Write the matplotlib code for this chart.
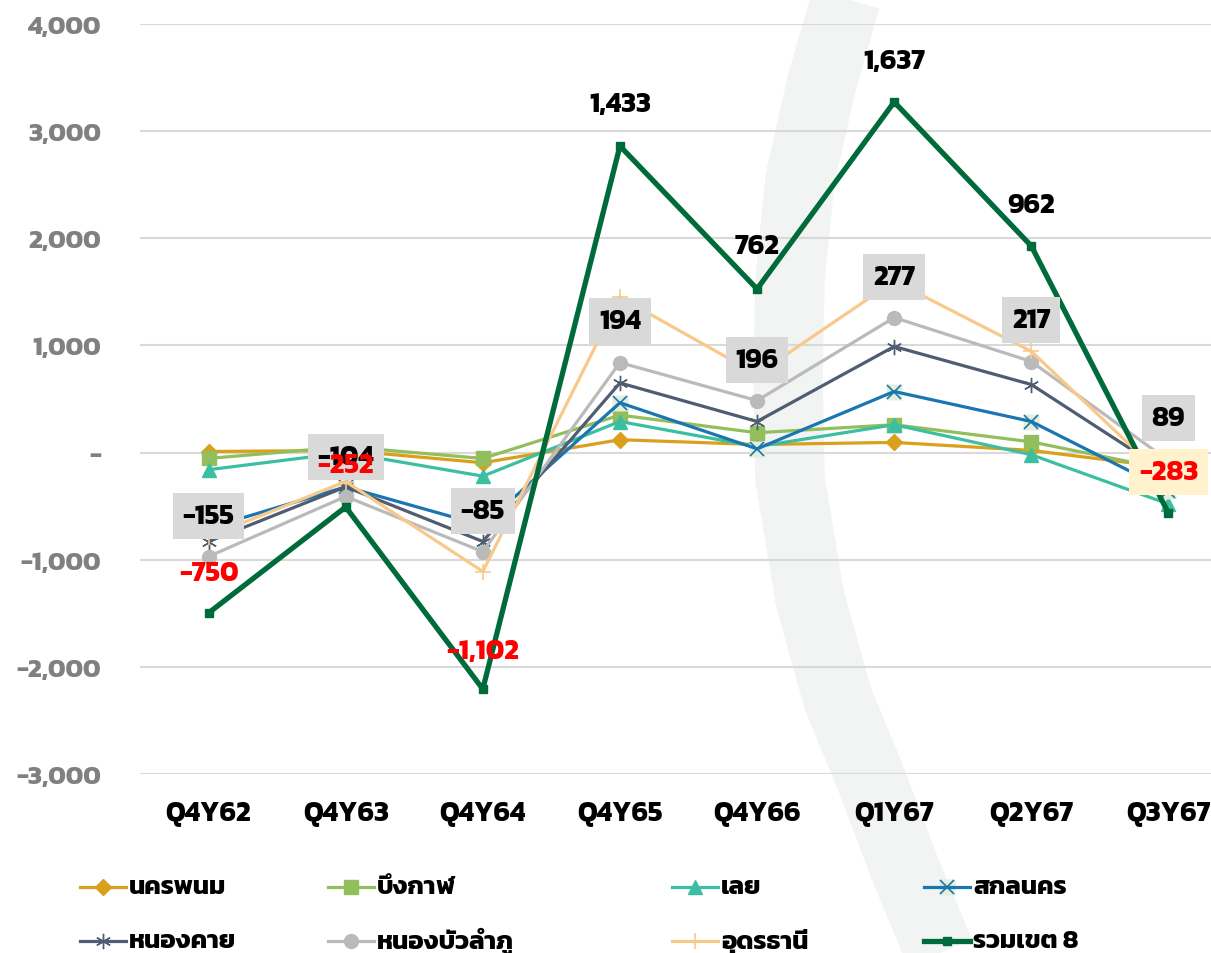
import matplotlib
matplotlib.use("Agg")
import matplotlib.pyplot as plt
from matplotlib import font_manager
from matplotlib.font_manager import FontProperties
from matplotlib.lines import Line2D
from matplotlib.ticker import FuncFormatter

# pick an installed Thai-capable font
names = {f.name for f in font_manager.fontManager.ttflist}
thai_font = next((n for n in ["Kanit", "Prompt", "Mitr", "Bai Jamjuree", "Chakra Petch"] if n in names), "DejaVu Sans")
plt.rcParams["font.family"] = [thai_font, "DejaVu Sans"]

# tick numbers: a static bold Montserrat if there is one, else the Thai font in bold
mont_bold = [f.fname for f in font_manager.fontManager.ttflist
             if f.name == "Montserrat" and f.weight == 700 and f.style == "normal" and "[" not in f.fname]
if mont_bold:
    ytick_fp = FontProperties(fname=mont_bold[0], size=17)
    xtick_fp = FontProperties(fname=mont_bold[0], size=18)
else:
    ytick_fp = FontProperties(family=thai_font, weight="bold", size=19)
    xtick_fp = FontProperties(family=thai_font, weight="bold", size=20)

# ---- data ----
quarters = ["Q4Y62", "Q4Y63", "Q4Y64", "Q4Y65", "Q4Y66", "Q1Y67", "Q2Y67", "Q3Y67"]
nakhon_phanom = [10, 20, -95, 120, 75, 95, 20, -140]
bueng_kan = [-55, 55, -55, 350, 185, 260, 100, -160]
loei = [-160, 0, -220, 290, 55, 260, -20, -480]
sakon_nakhon = [-705, -320, -680, 465, 35, 570, 290, -355]
nong_khai = [-830, -320, -830, 650, 290, 990, 635, -195]
nong_bua = [-970, -410, -925, 840, 485, 1260, 850, -75]
udon = [-785, -270, -1110, 1450, 730, 1600, 945, -270]
total8 = [-1497, -508, -2207, 2861, 1527, 3272, 1928, -564]

# data labels as shown on the chart
lbl_text = ["-155", "-750", "-104", "-252", "-85", "-1,102", "1,433", "194", "762", "196",
            "1,637", "277", "962", "217", "89", "-283"]
lbl_kind = ["box", "red", "box", "red", "box", "red", "plain", "box", "plain", "box",
            "plain", "box", "plain", "box", "box", "redbox"]
lbl_x = [0, 0, 1, 1, 2, 2, 3, 3, 4, 4, 5, 5, 6, 6, 7, 7]
lbl_y = [-592, -1124, -41, -116, -545, -1852, 3253, 1228, 1928, 864, 3654, 1639, 2311, 1237, 323, -181]

W, H = 1211, 954
fig = plt.figure(figsize=(W / 100, H / 100), dpi=100)

# faint watermark arc in the background
wx = [846, 822, 800, 790, 788, 790, 810, 838, 871, 905, 940]
wy = [0, 83, 180, 280, 380, 480, 600, 700, 780, 870, 954]
fig.add_artist(Line2D([v / W for v in wx], [1 - v / H for v in wy], transform=fig.transFigure,
                      color="#F2F4F3", lw=50, solid_capstyle="butt", solid_joinstyle="round", zorder=0))

ax = fig.add_axes([140 / W, (H - 775) / H, (1237 - 140) / W, 750 / H])
ax.patch.set_alpha(0)

x = list(range(len(quarters)))
ax.plot(x, nakhon_phanom, color="#DAA01C", lw=2.3, marker="D", ms=8, zorder=3)
ax.plot(x, bueng_kan, color="#92BE5C", lw=2.3, marker="s", ms=10, zorder=3)
ax.plot(x, loei, color="#3BBFA0", lw=2.3, marker="^", ms=10, zorder=3)
ax.plot(x, sakon_nakhon, ls="none", marker="s", ms=11, mfc="#E2EFDA", mec="none", zorder=3)
ax.plot(x, sakon_nakhon, color="#1A76B0", lw=2.3, marker="x", ms=10, mew=1.2, zorder=3)
ax.plot(x, nong_khai, color="#4F5D73", lw=2.3, marker=(6, 2, 0), ms=11, mew=1.0, zorder=3)
ax.plot(x, nong_bua, color="#BABABA", lw=2.3, marker="o", ms=10, zorder=3)
ax.plot(x, udon, color="#F8C98A", lw=2.3, marker="+", ms=12, mew=1.2, zorder=3)
ax.plot(x, total8, color="#006B3A", lw=3.8, marker="s", ms=6, zorder=4)

ax.set_xlim(-0.5, 7.5)
ax.set_ylim(-3000, 4000)
ax.set_yticks(range(-3000, 4001, 1000))
ax.yaxis.set_major_formatter(FuncFormatter(lambda v, p: "-" if v == 0 else f"{v:,.0f}"))
ax.grid(axis="y", color="#D9D9D9", lw=1.5)
ax.set_axisbelow(True)
for s in ax.spines.values():
    s.set_visible(False)
ax.tick_params(length=0)
ax.set_xticks(x)
ax.set_xticklabels(quarters, color="black")
for t in ax.get_xticklabels():
    t.set_fontproperties(xtick_fp)
ax.tick_params(axis="x", pad=18)
ax.tick_params(axis="y", pad=28)
for t in ax.get_yticklabels():
    t.set_fontproperties(ytick_fp)
    t.set_color("#808080")

for t, k, xi, yi in zip(lbl_text, lbl_kind, lbl_x, lbl_y):
    kw = dict(ha="center", va="center", fontsize=20, fontweight="bold", zorder=10)
    if k == "box":
        ax.text(xi, yi, t, color="black",
                bbox=dict(boxstyle="square,pad=0.35", fc="#D9D9D9", ec="none"), **kw)
    elif k == "redbox":
        ax.text(xi, yi, t, color="#FF0000",
                bbox=dict(boxstyle="square,pad=0.35", fc="#FFF2CC", ec="none"), **kw)
    elif k == "red":
        ax.text(xi, yi, t, color="#FF0000", **kw)
    else:
        ax.text(xi, yi, t, color="black", **kw)

# legend, drawn by hand in figure pixels (two rows, four columns)
leg_names = ["นครพนม", "บึงกาฬ", "เลย", "สกลนคร", "หนองคาย", "หนองบัวลำภู", "อุดรธานี", "รวมเขต 8"]
leg_styles = [
    dict(color="#DAA01C", lw=2.3, marker="D", ms=8),
    dict(color="#92BE5C", lw=2.3, marker="s", ms=10),
    dict(color="#3BBFA0", lw=2.3, marker="^", ms=10),
    dict(color="#1A76B0", lw=2.3, marker="x", ms=10, mew=1.2),
    dict(color="#4F5D73", lw=2.3, marker=(6, 2, 0), ms=11, mew=1.0),
    dict(color="#BABABA", lw=2.3, marker="o", ms=10),
    dict(color="#F8C98A", lw=2.3, marker="+", ms=12, mew=1.2),
    dict(color="#006B3A", lw=3.8, marker="s", ms=6),
]
col_x = [80, 328, 672, 924]
row_y = [888, 942]
for i, (name, st) in enumerate(zip(leg_names, leg_styles)):
    cx, ry = col_x[i % 4], row_y[i // 4]
    fy = 1 - ry / H
    if name == "สกลนคร":
        fig.add_artist(Line2D([(cx + 23) / W], [fy], transform=fig.transFigure, ls="none",
                              marker="s", ms=11, mfc="#E2EFDA", mec="none"))
    fig.add_artist(Line2D([cx / W, (cx + 23) / W, (cx + 46) / W], [fy] * 3,
                          transform=fig.transFigure, markevery=[1], **st))
    fig.text((cx + 49) / W, fy, name, fontsize=18.5, fontweight="bold", va="center", ha="left")

fig.savefig("out.png", dpi=100)
